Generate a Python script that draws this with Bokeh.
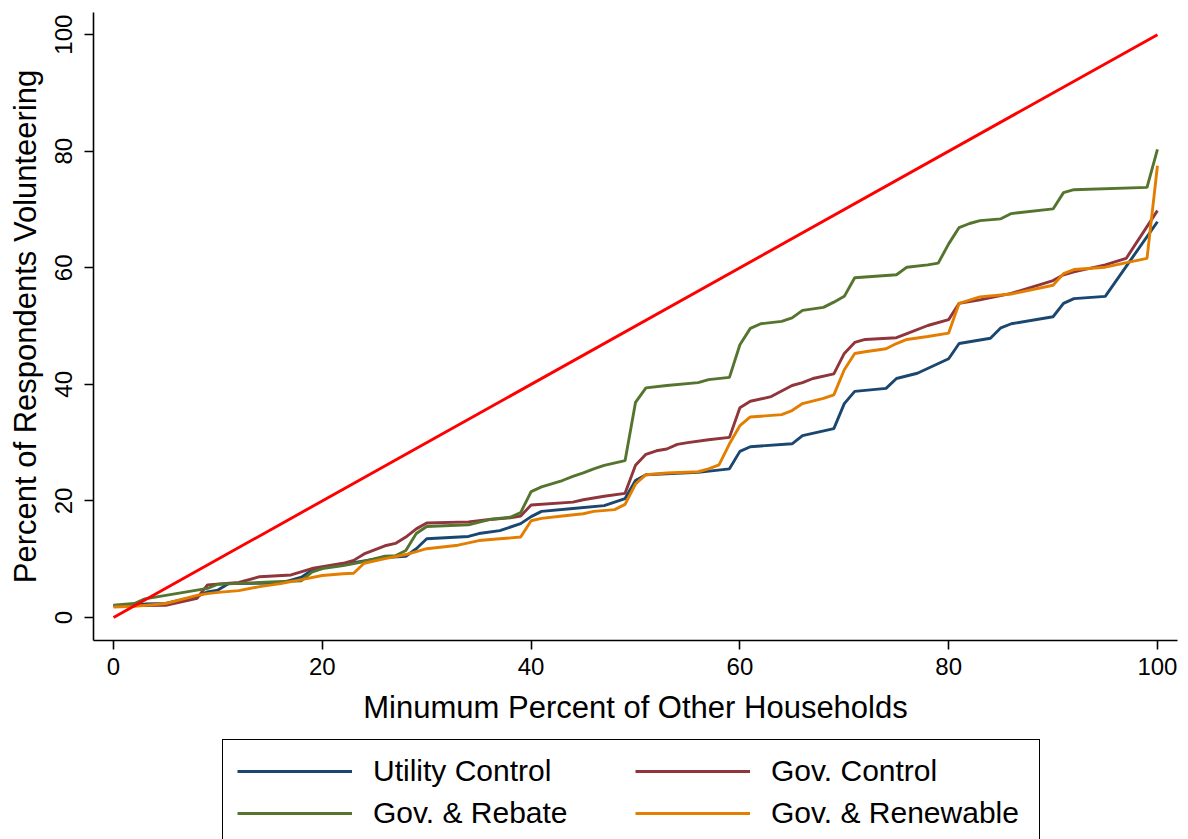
from bokeh.plotting import figure
from bokeh.models import Range1d, Legend, LegendItem, FixedTicker
from bokeh.layouts import column
from bokeh.embed import file_html
from bokeh.resources import INLINE

# ---- data ----
util_x = [0, 3, 5, 8, 9, 10, 11, 16, 18, 19, 20, 23, 26, 28, 29, 30, 34, 35, 37, 39,
          40, 41, 44, 47, 49, 50, 51, 56, 59, 60, 61, 65, 66, 69, 70, 71, 74, 75, 77, 80,
          81, 84, 85, 86, 90, 91, 92, 95, 100]
util_y = [2.0, 2.3, 2.4, 3.6, 4.4, 4.7, 5.8, 5.9, 6.9, 8.1, 8.6, 9.4, 10.3, 10.5, 11.8, 13.5, 13.9, 14.4, 14.9, 16.1,
          17.3, 18.2, 18.7, 19.2, 20.4, 23.5, 24.5, 24.9, 25.5, 28.5, 29.3, 29.8, 31.2, 32.4, 36.7, 38.8, 39.3, 41.0, 41.9, 44.4,
          47.0, 47.9, 49.7, 50.4, 51.6, 53.9, 54.7, 55.1, 67.9]

govc_x = [0, 5, 8, 9, 12, 14, 17, 19, 20, 22, 23, 24, 26, 27, 28, 29, 30, 34, 36, 38,
          39, 40, 44, 45, 47, 49, 50, 51, 52, 53, 54, 55, 57, 59, 60, 61, 63, 65, 66, 67,
          69, 70, 71, 72, 75, 76, 78, 80, 81, 83, 86, 90, 91, 92, 95, 97, 100]
govc_y = [2.0, 2.1, 3.3, 5.6, 6.0, 7.0, 7.3, 8.4, 8.7, 9.3, 9.8, 10.9, 12.3, 12.7, 13.8, 15.2, 16.2, 16.4, 16.8, 17.1,
          17.4, 19.3, 19.8, 20.2, 20.8, 21.3, 26.1, 28.0, 28.6, 28.9, 29.7, 30.0, 30.5, 30.9, 36.0, 37.1, 37.9, 39.8, 40.3, 41.0,
          41.8, 45.3, 47.2, 47.7, 48.0, 48.7, 50.1, 51.1, 53.9, 54.5, 55.6, 57.8, 58.8, 59.3, 60.5, 61.6, 69.8]

rebate_x = [0, 2, 3, 6, 9, 10, 14, 18, 19, 20, 22, 24, 26, 27, 28, 29, 30, 34, 36, 38,
            39, 40, 41, 43, 44, 45, 46, 47, 49, 50, 51, 53, 56, 57, 59, 60, 61, 62, 64, 65,
            66, 68, 69, 70, 71, 75, 76, 78, 79, 80, 81, 82, 83, 85, 86, 90, 91, 92, 99, 100]
rebate_y = [2.1, 2.4, 3.2, 4.1, 5.0, 5.7, 6.0, 6.3, 7.8, 8.4, 8.9, 9.6, 10.5, 10.6, 11.5, 14.4, 15.6, 15.9, 16.8, 17.2,
            18.0, 21.6, 22.4, 23.5, 24.2, 24.8, 25.5, 26.1, 26.9, 36.9, 39.4, 39.8, 40.3, 40.8, 41.2, 46.8, 49.6, 50.4, 50.8, 51.4,
            52.7, 53.2, 54.1, 55.1, 58.3, 58.8, 60.1, 60.5, 60.8, 64.1, 66.9, 67.6, 68.1, 68.4, 69.3, 70.1, 72.9, 73.4, 73.8, 80.3]

renew_x = [0, 2, 5, 8, 9, 10, 12, 14, 16, 18, 20, 22, 23, 24, 26, 28, 30, 33, 35, 37,
           39, 40, 41, 43, 45, 46, 48, 49, 50, 51, 53, 56, 57, 58, 59, 60, 61, 64, 65, 66,
           68, 69, 70, 71, 72, 74, 75, 76, 78, 80, 81, 83, 86, 90, 91, 92, 95, 99, 100]
renew_y = [1.8, 1.9, 2.4, 3.8, 4.1, 4.3, 4.6, 5.3, 5.8, 6.5, 7.2, 7.5, 7.6, 9.3, 10.1, 10.8, 11.8, 12.4, 13.2, 13.5,
           13.8, 16.6, 17.0, 17.4, 17.8, 18.2, 18.5, 19.4, 22.9, 24.5, 24.8, 25.0, 25.5, 26.2, 29.8, 32.9, 34.4, 34.8, 35.5, 36.7,
           37.6, 38.2, 42.5, 45.3, 45.6, 46.1, 47.0, 47.7, 48.2, 48.8, 53.9, 55.0, 55.5, 57.0, 59.0, 59.7, 60.1, 61.6, 77.5]

ref_x = [0, 100]
ref_y = [0, 100]

x_ticks = [0, 20, 40, 60, 80, 100]
y_ticks = [0, 20, 40, 60, 80, 100]

labels = ["Utility Control", "Gov. Control", "Gov. & Rebate", "Gov. & Renewable"]
colors = ["#1a476f", "#90353b", "#55752f", "#e37e00"]

FONT = "Liberation Sans"
LW = 2.9

p = figure(frame_width=1084, frame_height=628, output_backend="svg", toolbar_location=None,
           x_range=Range1d(-1.92, 101.92), y_range=Range1d(-3.95, 103.8),
           min_border_left=93, min_border_right=3, min_border_top=12, min_border_bottom=92)

p.outline_line_color = None
p.grid.grid_line_color = None
p.background_fill_color = "white"
p.border_fill_color = "white"

series = [(util_x, util_y), (govc_x, govc_y), (rebate_x, rebate_y), (renew_x, renew_y)]
for (xs, ys), c in zip(series, colors):
    p.line(xs, ys, line_color=c, line_width=LW)
p.line(ref_x, ref_y, line_color="#ff0000", line_width=LW)

for ax in (p.xaxis[0], p.yaxis[0]):
    ax.axis_line_color = "black"
    ax.axis_line_width = 1.6
    ax.major_tick_line_color = "black"
    ax.major_tick_line_width = 1.6
    ax.major_tick_out = 9
    ax.major_tick_in = 0
    ax.minor_tick_line_color = None
    ax.major_label_text_font = FONT
    ax.major_label_text_font_size = "24px"
    ax.major_label_text_color = "black"
    ax.axis_label_text_font = FONT
    ax.axis_label_text_font_size = "31px"
    ax.axis_label_text_font_style = "normal"
    ax.axis_label_text_color = "black"

p.xaxis.ticker = FixedTicker(ticks=x_ticks)
p.yaxis.ticker = FixedTicker(ticks=y_ticks)
p.xaxis.axis_label = "Minumum Percent of Other Households"
p.yaxis.axis_label = "Percent of Respondents Volunteering"
p.yaxis.major_label_orientation = "vertical"
p.xaxis.major_label_standoff = 8
p.yaxis.major_label_standoff = 12
p.xaxis.axis_label_standoff = 12
p.yaxis.axis_label_standoff = 10

# ---- legend strip (a second figure holding only the legend) ----
lg = figure(width=1180, height=107, output_backend="svg", toolbar_location=None,
            x_range=Range1d(1000, 1001), y_range=Range1d(1000, 1001),
            x_axis_type=None, y_axis_type=None,
            min_border_left=0, min_border_right=0, min_border_top=0, min_border_bottom=0)
lg.outline_line_color = None
lg.background_fill_color = "white"
lg.border_fill_color = "white"
lg_renderers = [lg.line(xs, ys, line_color=c, line_width=LW) for (xs, ys), c in zip(series, colors)]

order = [0, 2, 1, 3]
items = [LegendItem(label=labels[i], renderers=[lg_renderers[i]]) for i in order]
legend = Legend(items=items, location=(129, -6), orientation="vertical", nrows=2,
                glyph_width=115, glyph_height=30, label_standoff=21, label_width=254,
                spacing=8, padding=14, margin=0,
                border_line_color="black", border_line_width=1.5, border_line_alpha=1.0,
                label_text_font=FONT, label_text_font_size="30px", label_text_color="black",
                background_fill_color="white", background_fill_alpha=1.0)
lg.add_layout(legend)

layout = column(p, lg, spacing=0)
open("out.html", "w").write(file_html(layout, INLINE))
